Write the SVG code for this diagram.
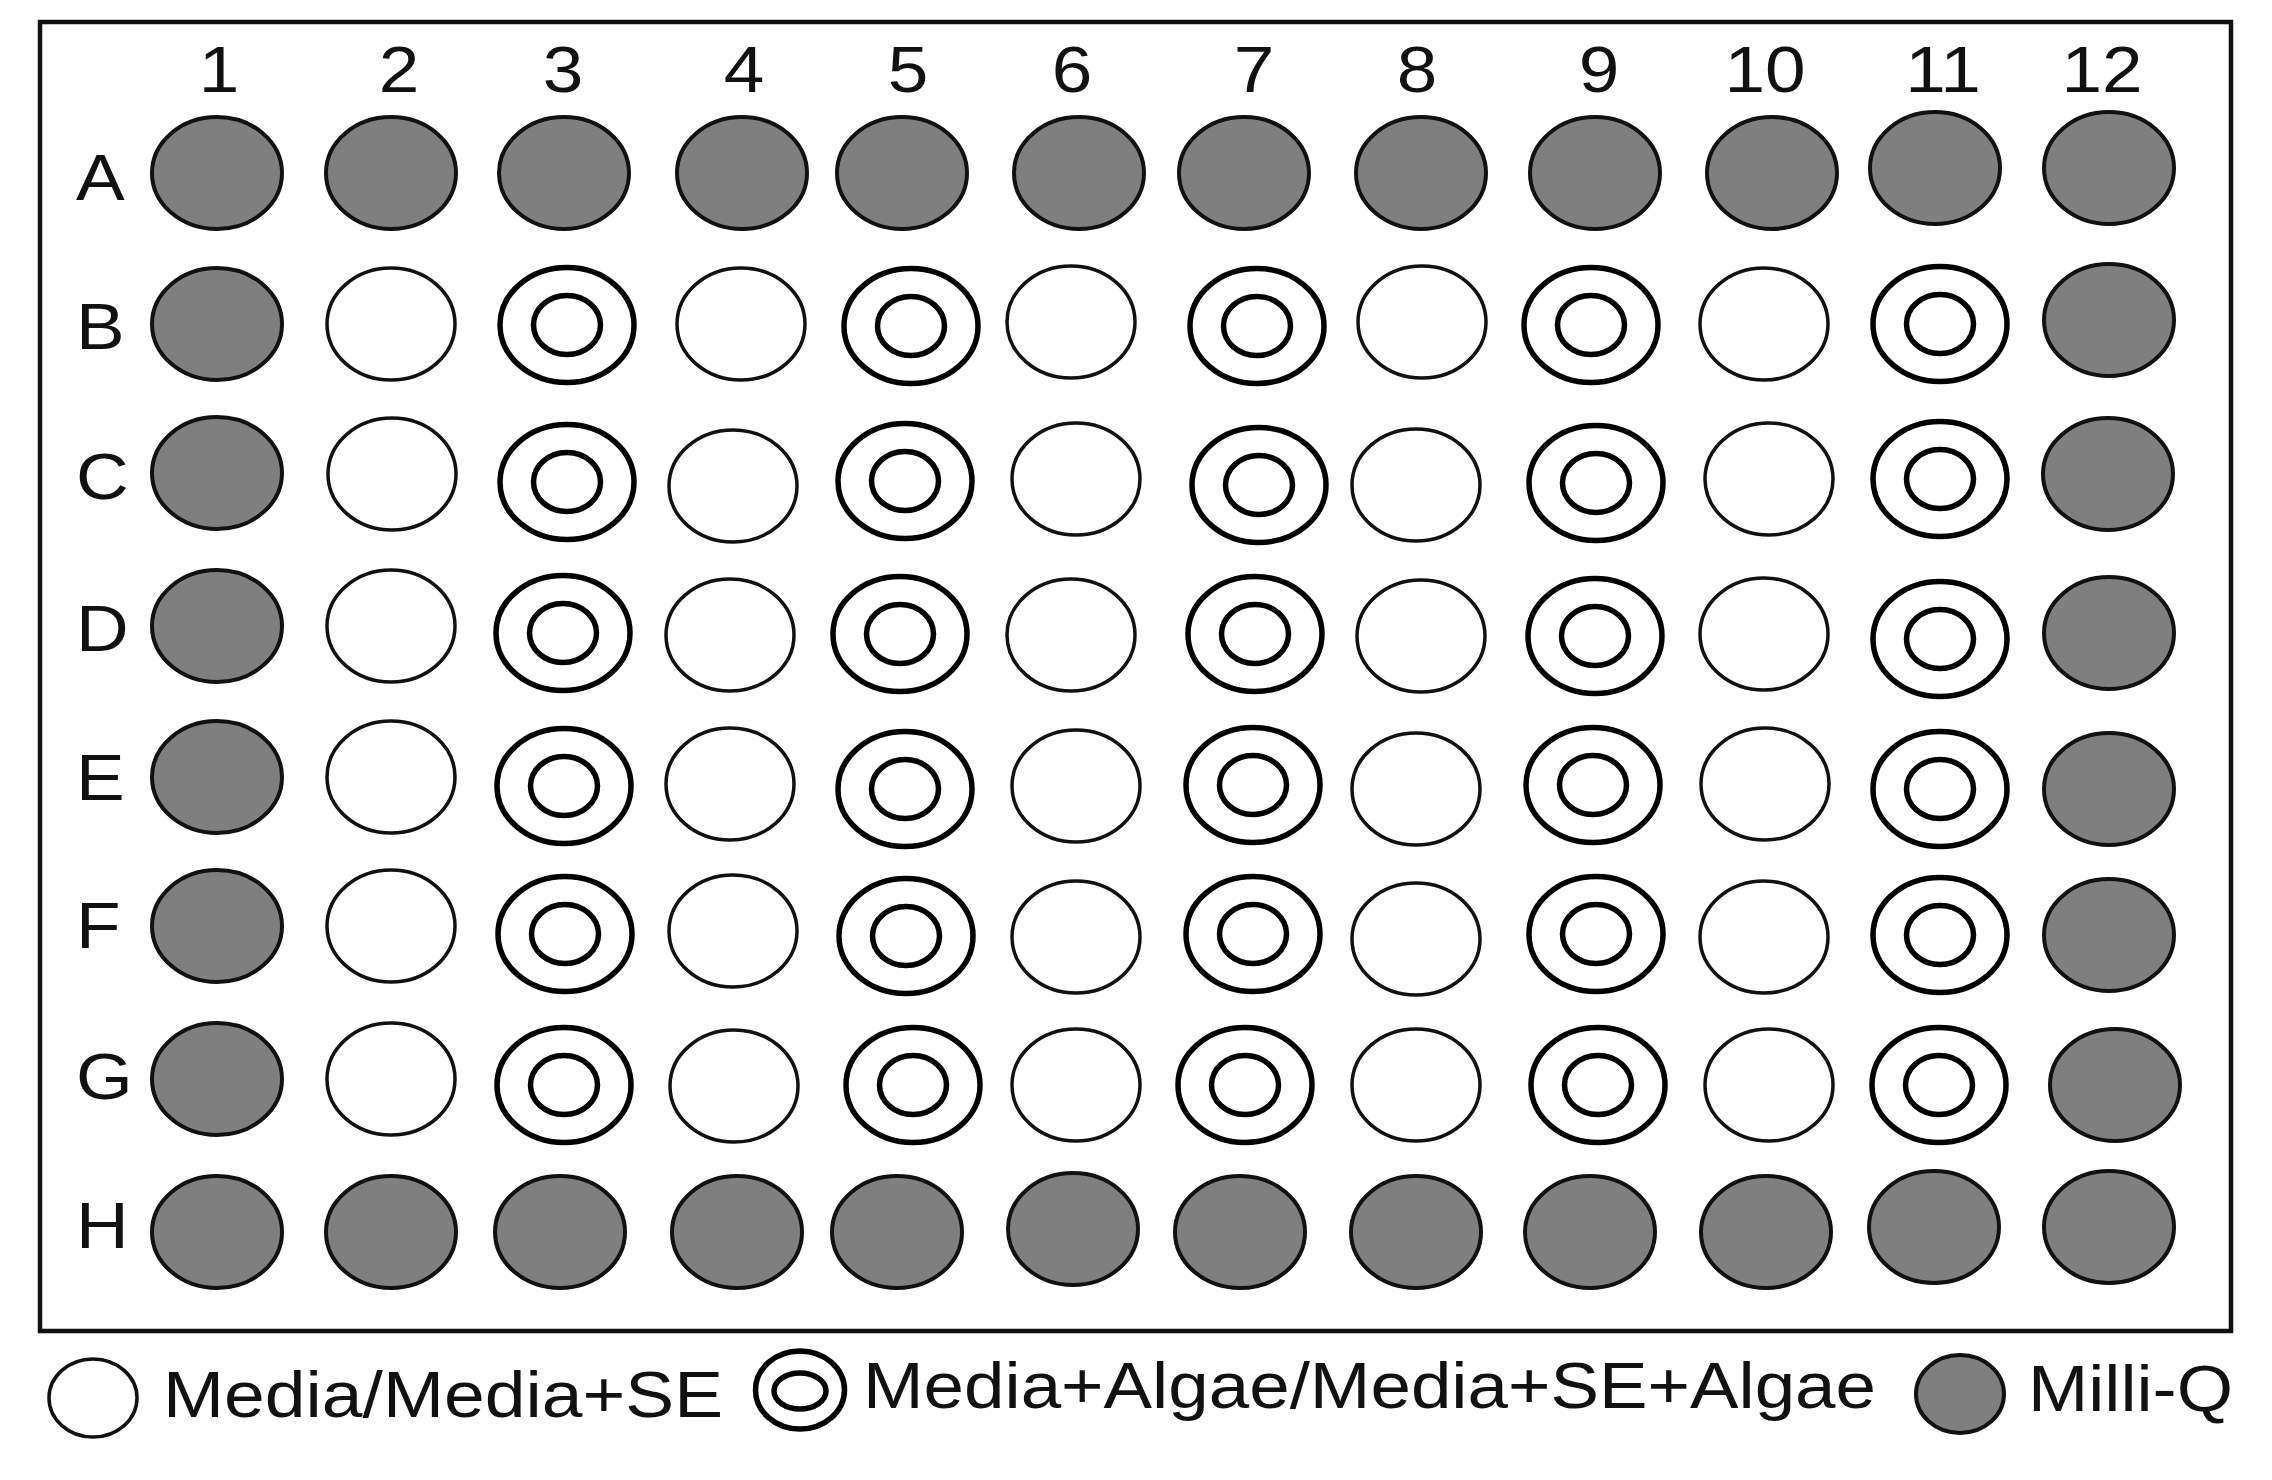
<svg xmlns="http://www.w3.org/2000/svg" xmlns:xlink="http://www.w3.org/1999/xlink" width="2272" height="1480" viewBox="0 0 2272 1480">
<style>
.g{fill:#7f7f7f;stroke:#111;stroke-width:4}
.w{fill:#fff;stroke:#111;stroke-width:3.5}
.r{fill:none;stroke:#000;stroke-width:5.5}
.t{font-family:"Liberation Sans",Arial,sans-serif;font-size:64px;fill:#111}
.c{text-anchor:middle}
</style>
<defs>
<g id="gw"><ellipse rx="65" ry="56" class="g"/></g>
<g id="ww"><ellipse rx="64" ry="56" class="w"/></g>
<g id="rw"><ellipse rx="67" ry="57.5" class="r" fill="#fff"/><ellipse rx="33.5" ry="29.5" class="r"/></g>
</defs>
<rect width="2272" height="1480" fill="#fff"/>
<rect x="40" y="22" width="2191" height="1309" fill="none" stroke="#111" stroke-width="4.5"/>
<g id="col-labels">
<text class="t c" transform="translate(219 92) scale(1.14 1)">1</text>
<text class="t c" transform="translate(399 92) scale(1.14 1)">2</text>
<text class="t c" transform="translate(563 92) scale(1.14 1)">3</text>
<text class="t c" transform="translate(744 92) scale(1.14 1)">4</text>
<text class="t c" transform="translate(908 92) scale(1.14 1)">5</text>
<text class="t c" transform="translate(1072 92) scale(1.14 1)">6</text>
<text class="t c" transform="translate(1254 92) scale(1.14 1)">7</text>
<text class="t c" transform="translate(1417 92) scale(1.14 1)">8</text>
<text class="t c" transform="translate(1599 92) scale(1.14 1)">9</text>
<text class="t c" transform="translate(1765 92) scale(1.14 1)">10</text>
<text class="t c" transform="translate(1943 92) scale(1.14 1)">11</text>
<text class="t c" transform="translate(2102 92) scale(1.14 1)">12</text>
</g>
<g id="row-labels">
<text class="t" transform="translate(76 200) scale(1.14 1)">A</text>
<text class="t" transform="translate(76 349) scale(1.14 1)">B</text>
<text class="t" transform="translate(76 499) scale(1.14 1)">C</text>
<text class="t" transform="translate(76 651) scale(1.14 1)">D</text>
<text class="t" transform="translate(76 800) scale(1.14 1)">E</text>
<text class="t" transform="translate(76 948) scale(1.14 1)">F</text>
<text class="t" transform="translate(76 1099) scale(1.14 1)">G</text>
<text class="t" transform="translate(76 1248) scale(1.14 1)">H</text>
</g>
<g id="wells">
<g id="A1" transform="translate(217 173)"><use href="#gw"/></g>
<g id="A2" transform="translate(391 173)"><use href="#gw"/></g>
<g id="A3" transform="translate(564 173)"><use href="#gw"/></g>
<g id="A4" transform="translate(742 173)"><use href="#gw"/></g>
<g id="A5" transform="translate(902 173)"><use href="#gw"/></g>
<g id="A6" transform="translate(1079 173)"><use href="#gw"/></g>
<g id="A7" transform="translate(1244 173)"><use href="#gw"/></g>
<g id="A8" transform="translate(1421 173)"><use href="#gw"/></g>
<g id="A9" transform="translate(1595 173)"><use href="#gw"/></g>
<g id="A10" transform="translate(1772 173)"><use href="#gw"/></g>
<g id="A11" transform="translate(1935 168)"><use href="#gw"/></g>
<g id="A12" transform="translate(2109 168)"><use href="#gw"/></g>

<g id="B1" transform="translate(217 324)"><use href="#gw"/></g>
<g id="B2" transform="translate(391 324)"><use href="#ww"/></g>
<g id="B3" transform="translate(567 325)"><use href="#rw"/></g>
<g id="B4" transform="translate(741 324)"><use href="#ww"/></g>
<g id="B5" transform="translate(911 326)"><use href="#rw"/></g>
<g id="B6" transform="translate(1071 322)"><use href="#ww"/></g>
<g id="B7" transform="translate(1257 326)"><use href="#rw"/></g>
<g id="B8" transform="translate(1422 322)"><use href="#ww"/></g>
<g id="B9" transform="translate(1591 325)"><use href="#rw"/></g>
<g id="B10" transform="translate(1764 324)"><use href="#ww"/></g>
<g id="B11" transform="translate(1940 324)"><use href="#rw"/></g>
<g id="B12" transform="translate(2109 320)"><use href="#gw"/></g>

<g id="C1" transform="translate(217 473)"><use href="#gw"/></g>
<g id="C2" transform="translate(392 474)"><use href="#ww"/></g>
<g id="C3" transform="translate(567 482)"><use href="#rw"/></g>
<g id="C4" transform="translate(733 486)"><use href="#ww"/></g>
<g id="C5" transform="translate(905 481)"><use href="#rw"/></g>
<g id="C6" transform="translate(1076 479)"><use href="#ww"/></g>
<g id="C7" transform="translate(1259 485)"><use href="#rw"/></g>
<g id="C8" transform="translate(1416 485)"><use href="#ww"/></g>
<g id="C9" transform="translate(1596 483)"><use href="#rw"/></g>
<g id="C10" transform="translate(1769 479)"><use href="#ww"/></g>
<g id="C11" transform="translate(1940 479)"><use href="#rw"/></g>
<g id="C12" transform="translate(2108 474)"><use href="#gw"/></g>

<g id="D1" transform="translate(217 626)"><use href="#gw"/></g>
<g id="D2" transform="translate(391 626)"><use href="#ww"/></g>
<g id="D3" transform="translate(563 633)"><use href="#rw"/></g>
<g id="D4" transform="translate(730 635)"><use href="#ww"/></g>
<g id="D5" transform="translate(900 634)"><use href="#rw"/></g>
<g id="D6" transform="translate(1071 635)"><use href="#ww"/></g>
<g id="D7" transform="translate(1255 634)"><use href="#rw"/></g>
<g id="D8" transform="translate(1421 636)"><use href="#ww"/></g>
<g id="D9" transform="translate(1595 636)"><use href="#rw"/></g>
<g id="D10" transform="translate(1764 634)"><use href="#ww"/></g>
<g id="D11" transform="translate(1940 639)"><use href="#rw"/></g>
<g id="D12" transform="translate(2109 633)"><use href="#gw"/></g>

<g id="E1" transform="translate(217 777)"><use href="#gw"/></g>
<g id="E2" transform="translate(391 777)"><use href="#ww"/></g>
<g id="E3" transform="translate(564 786)"><use href="#rw"/></g>
<g id="E4" transform="translate(730 784)"><use href="#ww"/></g>
<g id="E5" transform="translate(905 789)"><use href="#rw"/></g>
<g id="E6" transform="translate(1076 786)"><use href="#ww"/></g>
<g id="E7" transform="translate(1253 785)"><use href="#rw"/></g>
<g id="E8" transform="translate(1416 789)"><use href="#ww"/></g>
<g id="E9" transform="translate(1593 785)"><use href="#rw"/></g>
<g id="E10" transform="translate(1765 784)"><use href="#ww"/></g>
<g id="E11" transform="translate(1940 789)"><use href="#rw"/></g>
<g id="E12" transform="translate(2109 789)"><use href="#gw"/></g>

<g id="F1" transform="translate(217 926)"><use href="#gw"/></g>
<g id="F2" transform="translate(391 926)"><use href="#ww"/></g>
<g id="F3" transform="translate(565 934)"><use href="#rw"/></g>
<g id="F4" transform="translate(733 931)"><use href="#ww"/></g>
<g id="F5" transform="translate(906 936)"><use href="#rw"/></g>
<g id="F6" transform="translate(1076 937)"><use href="#ww"/></g>
<g id="F7" transform="translate(1253 934)"><use href="#rw"/></g>
<g id="F8" transform="translate(1416 939)"><use href="#ww"/></g>
<g id="F9" transform="translate(1596 934)"><use href="#rw"/></g>
<g id="F10" transform="translate(1764 937)"><use href="#ww"/></g>
<g id="F11" transform="translate(1940 935)"><use href="#rw"/></g>
<g id="F12" transform="translate(2109 935)"><use href="#gw"/></g>

<g id="G1" transform="translate(217 1079)"><use href="#gw"/></g>
<g id="G2" transform="translate(391 1079)"><use href="#ww"/></g>
<g id="G3" transform="translate(564 1085)"><use href="#rw"/></g>
<g id="G4" transform="translate(734 1086)"><use href="#ww"/></g>
<g id="G5" transform="translate(913 1085)"><use href="#rw"/></g>
<g id="G6" transform="translate(1076 1085)"><use href="#ww"/></g>
<g id="G7" transform="translate(1245 1085)"><use href="#rw"/></g>
<g id="G8" transform="translate(1416 1085)"><use href="#ww"/></g>
<g id="G9" transform="translate(1598 1085)"><use href="#rw"/></g>
<g id="G10" transform="translate(1769 1085)"><use href="#ww"/></g>
<g id="G11" transform="translate(1939 1085)"><use href="#rw"/></g>
<g id="G12" transform="translate(2115 1085)"><use href="#gw"/></g>

<g id="H1" transform="translate(217 1232)"><use href="#gw"/></g>
<g id="H2" transform="translate(391 1232)"><use href="#gw"/></g>
<g id="H3" transform="translate(560 1232)"><use href="#gw"/></g>
<g id="H4" transform="translate(737 1232)"><use href="#gw"/></g>
<g id="H5" transform="translate(897 1232)"><use href="#gw"/></g>
<g id="H6" transform="translate(1073 1229)"><use href="#gw"/></g>
<g id="H7" transform="translate(1240 1232)"><use href="#gw"/></g>
<g id="H8" transform="translate(1416 1232)"><use href="#gw"/></g>
<g id="H9" transform="translate(1590 1232)"><use href="#gw"/></g>
<g id="H10" transform="translate(1766 1232)"><use href="#gw"/></g>
<g id="H11" transform="translate(1934 1227)"><use href="#gw"/></g>
<g id="H12" transform="translate(2109 1227)"><use href="#gw"/></g>
</g>
<g id="legend">
<g id="legend-media">
<ellipse cx="93" cy="1398" rx="44" ry="39" class="w"/>
<text class="t" x="163" y="1417" textLength="560" lengthAdjust="spacingAndGlyphs">Media/Media+SE</text>
</g>
<g id="legend-algae">
<ellipse cx="800" cy="1390" rx="44.5" ry="39" class="r" fill="#fff" stroke-width="6.5"/>
<ellipse cx="800" cy="1391" rx="26" ry="18" class="r" stroke-width="6.5"/>
<text class="t" x="863" y="1408" textLength="1013" lengthAdjust="spacingAndGlyphs">Media+Algae/Media+SE+Algae</text>
</g>
<g id="legend-milliq">
<ellipse cx="1960" cy="1394" rx="44" ry="39" class="g"/>
<text class="t" x="2028" y="1411" textLength="205" lengthAdjust="spacingAndGlyphs">Milli-Q</text>
</g>
</g>
</svg>
